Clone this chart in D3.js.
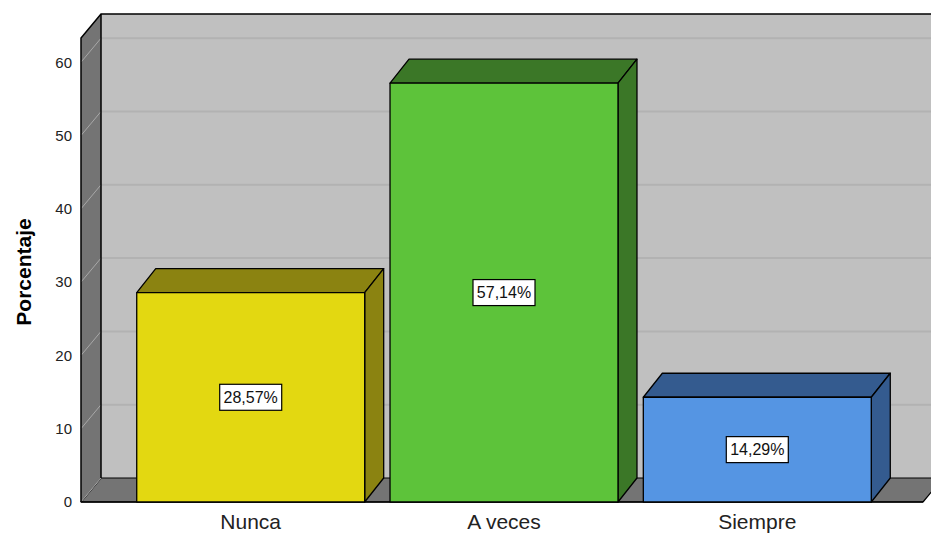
<!DOCTYPE html>
<html><head><meta charset="utf-8">
<script src="https://cdn.jsdelivr.net/npm/d3@7"></script>
<style>body{margin:0;background:#fff;overflow:hidden}svg{display:block}</style>
</head><body>
<svg id="c" width="931" height="535"></svg>
<script>
const categories = ["Nunca", "A veces", "Siempre"];
const values = [28.57, 57.14, 14.29];
const valueLabels = ["28,57%", "57,14%", "14,29%"];
const frontColors = ["#e3d811", "#5dc33a", "#5595e3"];
const darkColors = ["#8b8311", "#3b7727", "#345b8f"];
const yTicks = [0, 10, 20, 30, 40, 50, 60];
const yTitle = "Porcentaje";

const svg = d3.select("#c");
const W = 931;
const dx = 20, dy = -24;     // wall depth
const bdx = 19, bdy = -24;   // bar depth
const y = d3.scaleLinear().domain([0, 63.3]).range([502, 38]);
const x = d3.scaleBand().domain(categories).range([81, 927]).paddingInner(0.1).paddingOuter(0.22);
const x0 = 81, xEnd = 923;
const yTop = y.range()[1], y0 = y(0);

// back wall
svg.append("rect").attr("x", x0 + dx).attr("y", yTop + dy).attr("width", W).attr("height", y0 - yTop)
  .attr("fill", "#c0c0c0");
// back gridlines
svg.selectAll(".gb").data(yTicks.filter(d => d > 0)).join("line")
  .attr("x1", x0 + dx).attr("x2", W).attr("y1", d => y(d) + dy).attr("y2", d => y(d) + dy)
  .attr("stroke", "#b2b2b2").attr("stroke-width", 2);
// floor
svg.append("path").attr("d", `M${x0},${y0}L${x0+dx},${y0+dy}L${xEnd+dx},${y0+dy}L${xEnd},${y0}Z`)
  .attr("fill", "#747474").attr("stroke", "#000").attr("stroke-width", 1.2).attr("stroke-linejoin", "round");
// left wall
svg.append("path").attr("d", `M${x0},${y0}L${x0},${yTop}L${x0+dx},${yTop+dy}L${x0+dx},${y0+dy}Z`)
  .attr("fill", "#747474");
svg.selectAll(".gl").data(yTicks).join("line")
  .attr("x1", x0).attr("x2", x0 + dx).attr("y1", d => y(d)).attr("y2", d => y(d) + dy)
  .attr("stroke", "#a8a8a8").attr("stroke-width", 1);
svg.append("path").attr("d", `M${x0},${y0}L${x0},${yTop}L${x0+dx},${yTop+dy}L${W},${yTop+dy}`)
  .attr("fill", "none").attr("stroke", "#000").attr("stroke-width", 1.5);
svg.append("line").attr("x1", x0 + dx).attr("x2", x0 + dx).attr("y1", yTop + dy).attr("y2", y0 + dy)
  .attr("stroke", "#000").attr("stroke-width", 1.5);
svg.append("line").attr("x1", x0).attr("x2", xEnd).attr("y1", y0).attr("y2", y0)
  .attr("stroke", "#000").attr("stroke-width", 1.5);

// bars
const bars = svg.selectAll(".bar").data(categories).join("g");
bars.each(function(c, i) {
  const g = d3.select(this);
  const bx = x(c), bw = x.bandwidth(), by = y(values[i]);
  const st = {stroke: "#000", "stroke-width": 1.3, "stroke-linejoin": "round"};
  const top = g.append("path").attr("d", `M${bx},${by}L${bx+bdx},${by+bdy}L${bx+bw+bdx},${by+bdy}L${bx+bw},${by}Z`).attr("fill", darkColors[i]);
  const side = g.append("path").attr("d", `M${bx+bw},${by}L${bx+bw+bdx},${by+bdy}L${bx+bw+bdx},${y0+bdy}L${bx+bw},${y0}Z`).attr("fill", darkColors[i]);
  const front = g.append("rect").attr("x", bx).attr("y", by).attr("width", bw).attr("height", y0 - by).attr("fill", frontColors[i]);
  [top, side, front].forEach(s => Object.entries(st).forEach(([k, v]) => s.attr(k, v)));
  const cx = bx + bw / 2, cy = (by + y0) / 2;
  g.append("rect").attr("x", cx - 31).attr("y", cy - 13).attr("width", 62).attr("height", 26)
    .attr("fill", "#fff").attr("stroke", "#000").attr("stroke-width", 1.2);
  g.append("text").attr("x", cx).attr("y", cy).attr("dy", "0.36em").attr("text-anchor", "middle")
    .attr("font-family", "Liberation Sans, Arial, sans-serif").attr("font-size", 16).attr("fill", "#111")
    .text(valueLabels[i]);
});

// y axis labels
svg.selectAll(".yt").data(yTicks).join("text")
  .attr("x", 72).attr("y", d => y(d)).attr("dy", "0.36em").attr("text-anchor", "end")
  .attr("font-family", "Liberation Sans, Arial, sans-serif").attr("font-size", 15).attr("fill", "#222")
  .text(d => d);
// x labels
svg.selectAll(".xt").data(categories).join("text")
  .attr("x", d => x(d) + x.bandwidth() / 2).attr("y", 529).attr("text-anchor", "middle")
  .attr("font-family", "Liberation Sans, Arial, sans-serif").attr("font-size", 21).attr("fill", "#222")
  .text(d => d);
// y title
svg.append("text").attr("transform", `translate(31,${(y0 + yTop) / 2 + 2}) rotate(-90)`)
  .attr("text-anchor", "middle").attr("font-family", "Liberation Sans, Arial, sans-serif")
  .attr("font-size", 21).attr("font-weight", "bold").attr("fill", "#000").text(yTitle);
</script>
</body></html>
